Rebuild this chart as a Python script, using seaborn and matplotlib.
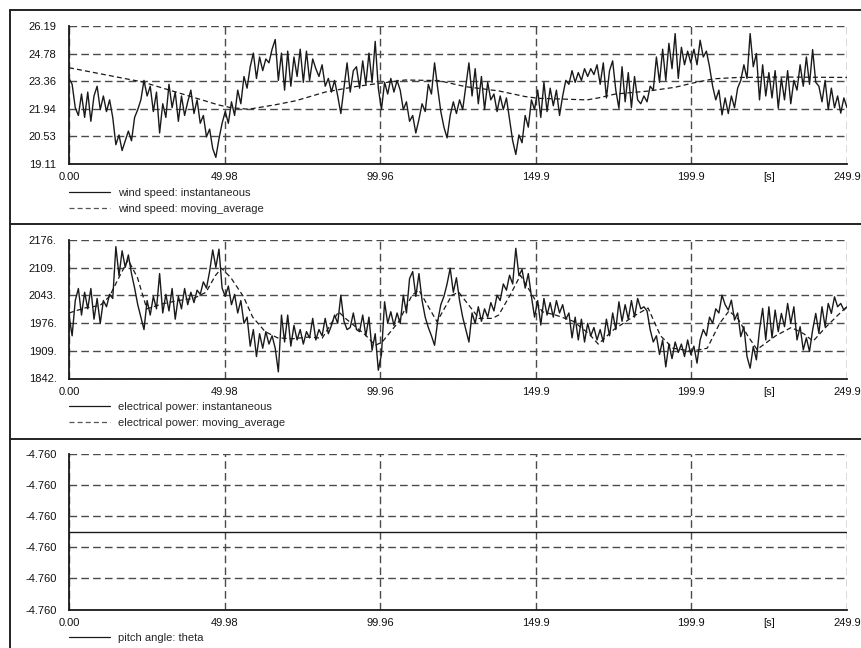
import numpy as np
import pandas as pd
import matplotlib
matplotlib.use("Agg")
import matplotlib.pyplot as plt
import seaborn as sns
from matplotlib.ticker import FixedLocator, FixedFormatter, AutoMinorLocator, FormatStrFormatter, NullFormatter
from matplotlib.lines import Line2D

sns.set_style("white")
plt.rcParams["font.family"] = ["Liberation Sans", "DejaVu Sans"]
plt.rcParams["font.size"] = 8

# ---------------- data ----------------
T_END = 249.9
x_ticks = [0.0, 49.98, 99.96, 149.94, 199.92, 249.9]
x_tick_labels = ["0.00", "49.98", "99.96", "149.9", "199.9", "249.9"]
x_minor = [24.99, 74.97, 124.95, 174.93, 224.91]
x_minor_labels = ["", "", "", "", "[s]"]

wind_ticks = [19.11, 20.526, 21.942, 23.358, 24.774, 26.19]
wind_tick_labels = ["19.11", "20.53", "21.94", "23.36", "24.78", "26.19"]
power_ticks = [1842, 1908.8, 1975.6, 2042.4, 2109.2, 2176]
power_tick_labels = ["1842.", "1909.", "1976.", "2043.", "2109.", "2176."]

wind_inst = [
    23.5, 23.2, 22.0, 21.6, 22.7, 21.5, 22.8, 21.3, 22.6, 23.1,
    21.9, 22.6, 21.8, 22.4, 21.5, 20.1, 20.6, 19.8, 20.3, 20.8,
    20.3, 21.5, 21.9, 22.4, 23.4, 22.6, 23.1, 21.8, 22.8, 20.7,
    22.2, 21.5, 23.2, 22.0, 22.8, 21.3, 22.6, 21.6, 22.3, 22.9,
    21.7, 22.4, 21.2, 21.6, 20.5, 20.9, 19.9, 19.45, 20.4, 21.2,
    21.8, 21.2, 22.3, 21.6, 22.9, 22.2, 23.6, 23.0, 24.1, 24.8,
    23.5, 24.6, 23.9, 24.5, 24.3, 25.0, 25.5, 23.4, 24.8, 22.9,
    24.9, 23.1, 24.6, 23.6, 25.0, 23.3, 24.9, 23.4, 24.5, 24.0,
    23.6, 24.2, 23.1, 23.5, 22.8, 23.4, 22.6, 21.7, 23.0, 24.3,
    22.8, 23.9, 24.1, 23.0, 24.4, 23.2, 24.8, 23.3, 25.4, 23.0,
    21.9, 23.3, 22.7, 23.5, 22.8, 23.4, 22.9, 21.9, 22.3, 21.3,
    21.6, 20.7, 21.4, 22.2, 21.8, 23.2, 22.7, 24.3, 23.0, 21.8,
    21.0, 20.45, 21.6, 22.3, 21.7, 22.4, 21.9, 23.1, 24.3, 22.6,
    24.0, 22.2, 23.6, 21.9, 23.3, 22.4, 22.7, 21.8, 22.6, 21.9,
    22.5, 21.4, 20.3, 19.6, 20.6, 20.2, 21.6, 21.0, 22.4, 21.9,
    22.9, 21.5, 23.3, 21.8, 23.0, 22.1, 22.9, 21.6, 22.6, 23.4,
    23.2, 23.9, 23.3, 23.8, 23.4, 24.0, 23.6, 24.0, 23.7, 24.2,
    23.2, 24.3, 22.5, 23.9, 24.4, 22.9, 21.97, 24.1, 22.3, 23.8,
    22.0, 23.6, 22.4, 22.2, 22.6, 22.3, 23.1, 22.9, 24.6, 23.3,
    25.0, 23.4, 25.3, 24.0, 25.8, 23.5, 25.1, 24.2, 24.9, 24.3,
    25.0, 24.2, 25.46, 24.6, 24.9, 24.1, 23.1, 22.4, 22.9, 21.63,
    22.5, 21.7, 22.6, 22.0, 23.0, 23.4, 24.2, 23.5, 25.8, 24.1,
    24.78, 22.4, 24.2, 22.6, 23.8, 22.5, 23.9, 21.97, 23.5, 22.4,
    23.9, 22.2, 23.4, 22.9, 24.2, 23.1, 24.6, 23.2, 24.98, 23.3,
    23.1, 22.3, 23.4, 21.9, 23.0, 22.0, 22.6, 21.72, 22.5, 22.0,
]

wind_ma_t = [0, 10, 20, 23.4, 30, 40, 48, 52, 57.7, 66.3, 72.7, 77, 82.3, 92, 99.7,
             108, 118.7, 127.3, 138, 146.5, 150.8, 166.4, 170, 175.5, 186, 194.8,
             200, 207, 215, 230, 249.9]
wind_ma = [24.05, 23.74, 23.43, 23.33, 23.01, 22.53, 22.14, 22.0, 21.92, 22.15, 22.35,
           22.55, 22.8, 23.08, 23.25, 23.42, 23.39, 23.08, 22.86, 22.57, 22.48, 22.4,
           22.5, 22.7, 22.85, 23.05, 23.25, 23.48, 23.55, 23.57, 23.55]

power_inst = [
    1995, 1945, 2030, 2059, 1995, 2050, 2010, 2059, 1985, 2035,
    1975, 2030, 2015, 2045, 2035, 2160, 2090, 2150, 2110, 2140,
    2095, 2060, 2020, 1990, 1960, 2030, 1995, 2040, 2010, 2095,
    2000, 2045, 2005, 2059, 1985, 2040, 2010, 2059, 2020, 2050,
    2025, 2055, 2045, 2075, 2060, 2100, 2152, 2110, 2154, 2060,
    2040, 2065, 2020, 2045, 2000, 2030, 1975, 1990, 1920, 1960,
    1895, 1950, 1915, 1955, 1925, 1945, 1915, 1858, 1995, 1930,
    1995, 1920, 1970, 1935, 1960, 1925, 1955, 1940, 1987, 1935,
    1960, 1945, 1987, 1950, 1970, 1995, 1975, 2043, 1980, 1960,
    1965, 2000, 1960, 1955, 1995, 1945, 1990, 1910, 1950, 1862,
    1900, 2027, 1975, 2003, 1970, 2000, 1975, 2043, 2000, 2083,
    2100, 2040, 2095, 2030, 1990, 1965, 1945, 1922, 1980, 2020,
    2040, 2070, 2108, 2050, 2085, 2030, 1990, 1960, 1930, 2000,
    1975, 2015, 1980, 2010, 1990, 2025, 2005, 2043, 2030, 2070,
    2055, 2091, 2070, 2156, 2090, 2105, 2060, 2095, 2040, 1990,
    2030, 1971, 2035, 1995, 2025, 1990, 2030, 2000, 2020, 1985,
    2000, 1940, 1990, 1935, 1985, 1930, 1975, 1945, 1965, 1935,
    1960, 1930, 1985, 1945, 2000, 1960, 2027, 1980, 2020, 1985,
    2030, 1990, 2035, 2010, 2015, 2005, 1960, 1930, 1945, 1900,
    1935, 1870, 1925, 1890, 1930, 1905, 1925, 1895, 1935, 1900,
    1920, 1879, 1935, 1960, 1945, 1990, 1975, 2010, 2000, 2043,
    2020, 2007, 2031, 1983, 2000, 1943, 1967, 1895, 1867, 1919,
    1887, 1960, 2011, 1935, 2015, 1940, 2007, 1955, 1999, 1967,
    2023, 1975, 2015, 1935, 1967, 1911, 1940, 1907, 1959, 1999,
    1951, 2015, 1967, 2023, 1999, 2039, 2015, 2023, 2007, 2015,
]

power_ma_t = [0, 5, 10, 13, 16, 19, 22, 25, 30, 35, 40, 44, 47, 49, 52, 56, 59, 63, 67, 72,
              77, 81.3, 86.6, 88.8, 95.2, 98.4, 100.6, 105.9, 110.2, 112.4, 118.2, 123,
              125.2, 131.7, 136, 138, 141.7, 145, 148.2, 152, 156.3, 162, 167, 170, 175,
              182, 186, 190, 194, 200, 205, 209, 212, 215, 218, 221, 227, 232, 236, 239,
              243, 247, 249.9]
power_ma = [2000, 2012, 2018, 2040, 2085, 2128, 2085, 2010, 2022, 2030, 2035, 2050, 2090,
            2108, 2085, 2040, 1990, 1955, 1940, 1938, 1942, 1939, 2003, 1987, 1947, 1922,
            1930, 1979, 2043, 2055, 1979, 2043, 2050, 1987, 1987, 1995, 2043, 2091, 2051,
            2003, 1995, 1980, 1950, 1925, 1960, 1995, 2012, 1945, 1915, 1908, 1915, 1975,
            2005, 1985, 1945, 1912, 1945, 1965, 1950, 1932, 1965, 1995, 2015]

theta_t = [0.0, 249.9]
theta = [-4.76, -4.76]
theta_ticks = list(np.linspace(-4.76 - 2.5e-6, -4.76 + 2.5e-6, 6))

# ---------------- figure ----------------
W, H = 861, 648
fig = plt.figure(figsize=(W / 100, H / 100), dpi=100)


def ax_at(left, top, right, bottom):
    return fig.add_axes([left / W, 1 - bottom / H, (right - left) / W, (bottom - top) / H])


ax1 = ax_at(69, 26, 847, 164)
ax2 = ax_at(69, 240, 847, 378.5)
ax3 = ax_at(69, 454, 847, 609.5)

INK = "#1a1a1a"
GRID = "#4a4a4a"

t_wind = np.linspace(0, T_END, len(wind_inst))
t_power = np.linspace(0, T_END, len(power_inst))

sns.lineplot(x=t_wind, y=wind_inst, ax=ax1, color=INK, lw=1.0, sort=False, estimator=None,
             label="wind speed: instantaneous")
sns.lineplot(x=wind_ma_t, y=wind_ma, ax=ax1, color=INK, lw=0.9, sort=False, estimator=None,
             label="wind speed: moving_average")
ax1.lines[1].set_dashes((4, 2.5))

sns.lineplot(x=t_power, y=power_inst, ax=ax2, color=INK, lw=1.0, sort=False, estimator=None,
             label="electrical power: instantaneous")
sns.lineplot(x=power_ma_t, y=power_ma, ax=ax2, color=INK, lw=0.9, sort=False, estimator=None,
             label="electrical power: moving_average")
ax2.lines[1].set_dashes((4, 2.5))

sns.lineplot(x=theta_t, y=theta, ax=ax3, color=INK, lw=1.0, sort=False, estimator=None,
             label="pitch angle: theta")


def style(ax, yticks, ylabels=None, fmt=None):
    ax.set_xlim(0, T_END)
    ax.set_ylim(yticks[0], yticks[-1])
    ax.xaxis.set_major_locator(FixedLocator(x_ticks))
    ax.xaxis.set_major_formatter(FixedFormatter(x_tick_labels))
    ax.xaxis.set_minor_locator(FixedLocator(x_minor))
    ax.xaxis.set_minor_formatter(FixedFormatter(x_minor_labels))
    ax.yaxis.set_major_locator(FixedLocator(yticks))
    if ylabels is not None:
        ax.yaxis.set_major_formatter(FixedFormatter(ylabels))
    else:
        ax.yaxis.set_major_formatter(FormatStrFormatter(fmt))
    ax.yaxis.set_minor_locator(AutoMinorLocator(2))
    ax.tick_params(axis="both", which="both", direction="in", colors=INK, labelsize=8,
                   labelcolor="#111111")
    ax.tick_params(axis="x", which="major", length=5, width=1.2, pad=6)
    ax.tick_params(axis="x", which="minor", length=4, width=1.0, pad=6)
    ax.tick_params(axis="y", which="major", length=0, pad=9)
    ax.tick_params(axis="y", which="minor", length=4, width=1.0)
    ax.grid(True, which="major", color=GRID, lw=1.0, linestyle=(0, (5.5, 3)))
    ax.grid(False, which="minor")
    for s in ["top", "right"]:
        ax.spines[s].set_visible(False)
    for s in ["left", "bottom"]:
        ax.spines[s].set_color(INK)
        ax.spines[s].set_linewidth(1.3)
    ax.set_facecolor("white")
    h = ax.get_window_extent().height
    leg = ax.legend(loc="upper left", bbox_to_anchor=(0, -23.5 / h), frameon=False,
                    borderpad=0, borderaxespad=0, handlelength=3.7, handletextpad=0.7,
                    labelspacing=0.55, fontsize=8)
    for line in leg.get_lines():
        line.set_linewidth(0.9)
        line.set_color(INK)


style(ax1, wind_ticks, wind_tick_labels)
style(ax2, power_ticks, power_tick_labels)
style(ax3, theta_ticks, fmt="%.3f")

# legend line styles for moving averages
for ax in (ax1, ax2):
    leg = ax.get_legend()
    leg.get_lines()[1].set_dashes((4, 2.5))
    leg.get_lines()[1].set_color("#555555")

# outer frame and separators
frame_kw = dict(color="#222222", lw=1.4, transform=fig.transFigure)
fig.add_artist(Line2D([10 / W, 1.0], [1 - 10 / H, 1 - 10 / H], **frame_kw))
fig.add_artist(Line2D([10 / W, 10 / W], [1 - 10 / H, 0.0], **frame_kw))
fig.add_artist(Line2D([10 / W, 1.0], [1 - 224 / H, 1 - 224 / H], **frame_kw))
fig.add_artist(Line2D([10 / W, 1.0], [1 - 439 / H, 1 - 439 / H], **frame_kw))

fig.savefig("out.png", dpi=100, facecolor="white")
